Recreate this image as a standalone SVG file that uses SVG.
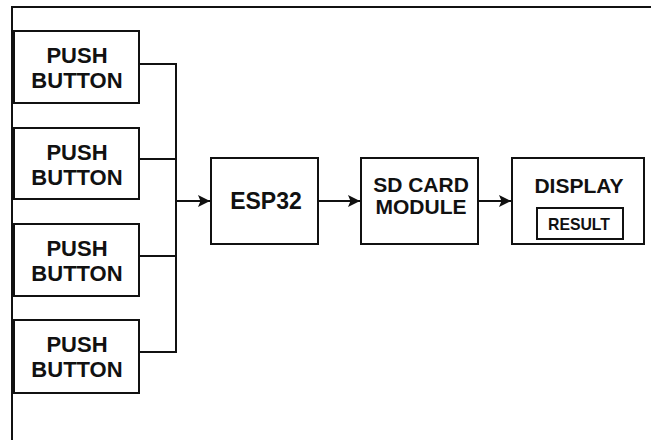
<svg xmlns="http://www.w3.org/2000/svg" width="651" height="440" viewBox="0 0 651 440">
<style>
.box{fill:#fff;stroke:#111;stroke-width:2}
.t{font-family:"Liberation Sans",Arial,sans-serif;font-weight:bold;fill:#111;text-anchor:middle}
.line{fill:none;stroke:#111;stroke-width:2}
</style>
<defs>
<marker id="arr" viewBox="0 0 12 12" refX="12" refY="6" markerWidth="12" markerHeight="12" markerUnits="userSpaceOnUse" orient="auto">
<path d="M0,0 L12,6 L0,12 L2.5,6 Z" fill="#111"/>
</marker>
</defs>
<rect width="651" height="440" fill="#fff"/>
<g id="frame">
<path class="line" d="M12,440 V7 H651" stroke-width="2.5"/>
</g>
<g id="pb1"><rect class="box" x="14" y="31" width="125" height="72"/><text class="t" x="77" y="63" font-size="22">PUSH</text><text class="t" x="77" y="88" font-size="22">BUTTON</text></g>
<g id="pb2"><rect class="box" x="14" y="128" width="125" height="71"/><text class="t" x="77" y="160" font-size="22">PUSH</text><text class="t" x="77" y="185" font-size="22">BUTTON</text></g>
<g id="pb3"><rect class="box" x="14" y="224" width="125" height="72"/><text class="t" x="77" y="256" font-size="22">PUSH</text><text class="t" x="77" y="281" font-size="22">BUTTON</text></g>
<g id="pb4"><rect class="box" x="14" y="320" width="125" height="73"/><text class="t" x="77" y="352" font-size="22">PUSH</text><text class="t" x="77" y="377" font-size="22">BUTTON</text></g>
<g id="esp32"><rect class="box" x="211" y="158" width="107" height="86"/><text class="t" x="266" y="209" font-size="23">ESP32</text></g>
<g id="sdcard"><rect class="box" x="361" y="158" width="117" height="86"/><text class="t" x="421" y="192" font-size="21">SD CARD</text><text class="t" x="421" y="214" font-size="21">MODULE</text></g>
<g id="display"><rect class="box" x="512" y="158" width="132" height="86"/><text class="t" x="579" y="193" font-size="21">DISPLAY</text>
<rect class="box" x="537" y="208" width="86" height="31"/><text class="t" x="579" y="230" font-size="17" textLength="62" lengthAdjust="spacingAndGlyphs">RESULT</text></g>
<g id="connectors">
<path class="line" d="M139,64 H176 V352 H139"/>
<path class="line" d="M139,159 H176"/>
<path class="line" d="M139,256 H176"/>
<path class="line" d="M176,201 H210" marker-end="url(#arr)"/>
<path class="line" d="M318,201 H360" marker-end="url(#arr)"/>
<path class="line" d="M478,201 H511" marker-end="url(#arr)"/>
</g>
</svg>
